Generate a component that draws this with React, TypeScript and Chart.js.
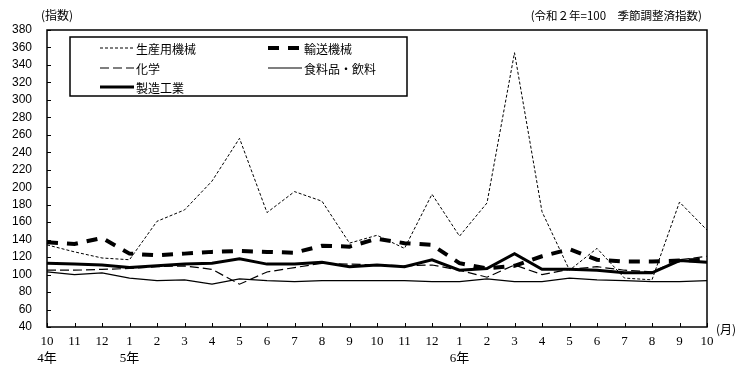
import React, { useEffect, useRef } from 'react';
import { Chart, registerables } from 'chart.js';
Chart.register(...registerables);

// ---- data ----
const months = ['10','11','12','1','2','3','4','5','6','7','8','9','10','11','12','1','2','3','4','5','6','7','8','9','10'];
const years = ['4年','','','5年','','','','','','','','','','','','6年','','','','','','','','',''];
const seriesNames = ['生産用機械', '輸送機械', '化学', '食料品・飲料', '製造工業'];
const machinery = [134,126,119,117,161,174,207,256,171,195,184,136,145,130,192,144,182,354,172,105,130,96,94,183,151];
const transport = [137,135,142,124,122,124,126,127,126,125,133,132,141,136,134,113,107,110,121,129,117,115,115,116,117];
const chemicals = [105,105,106,107,109,110,106,89,103,108,113,112,111,110,111,105,97,111,100,106,109,105,103,117,121];
const food = [103,100,102,96,93,94,89,95,93,92,93,93,93,93,92,92,95,92,92,96,94,93,92,92,93];
const manufacturing = [113,112,111,108,110,112,113,118,112,112,114,109,111,109,117,105,107,124,106,106,105,102,102,116,114];
const yTicks = { min: 40, max: 380, step: 20 };
const yUnit = '(指数)';
const note = '(令和２年=100　季節調整済指数)';
const xUnit = '(月)';

const CJK = '"Noto Sans CJK JP", "Noto Sans", sans-serif';

const legendSlots = [
  { x: 100, y: 48 }, { x: 268, y: 48 },
  { x: 100, y: 68 }, { x: 268, y: 68 },
  { x: 100, y: 87 },
];

const decorPlugin = {
  id: 'decor',
  afterDraw(chart: any) {
    const { ctx, chartArea: a, scales } = chart;
    ctx.save();
    // frame
    ctx.strokeStyle = '#000';
    ctx.lineWidth = 1.5;
    ctx.setLineDash([]);
    ctx.strokeRect(a.left, a.top, a.right - a.left, a.bottom - a.top);
    // inward ticks
    ctx.lineWidth = 1;
    const ys = scales.y;
    ys.ticks.forEach((t: any) => {
      const py = Math.round(ys.getPixelForValue(t.value)) + 0.5;
      ctx.beginPath(); ctx.moveTo(a.left, py); ctx.lineTo(a.left + 4, py); ctx.stroke();
    });
    const xs = scales.x;
    xs.ticks.forEach((_t: any, i: number) => {
      const px = Math.round(xs.getPixelForTick(i)) + 0.5;
      ctx.beginPath(); ctx.moveTo(px, a.bottom); ctx.lineTo(px, a.bottom - 4); ctx.stroke();
    });
    // legend
    ctx.fillStyle = '#fff';
    ctx.fillRect(70, 37, 337, 59);
    ctx.lineWidth = 1.5;
    ctx.strokeStyle = '#000';
    ctx.strokeRect(70, 37, 337, 59);
    ctx.font = '12px ' + CJK;
    ctx.textBaseline = 'middle';
    ctx.textAlign = 'left';
    chart.data.datasets.forEach((ds: any, i: number) => {
      const s = legendSlots[i];
      ctx.save();
      ctx.strokeStyle = ds.borderColor;
      ctx.lineWidth = ds.borderWidth;
      ctx.setLineDash(ds.borderDash || []);
      ctx.beginPath(); ctx.moveTo(s.x, s.y); ctx.lineTo(s.x + 34, s.y); ctx.stroke();
      ctx.restore();
      ctx.fillStyle = '#000';
      ctx.fillText(ds.label, s.x + 36, s.y + 1);
    });
    // texts
    ctx.fillStyle = '#000';
    ctx.font = '12px ' + CJK;
    ctx.textAlign = 'left';
    ctx.fillText(yUnit, 41, 15);
    ctx.textAlign = 'right';
    ctx.font = '11.5px ' + CJK;
    ctx.fillText(note, 702, 16);
    ctx.textAlign = 'left';
    ctx.font = '12px ' + CJK;
    ctx.fillText(xUnit, 716, 329);
    ctx.restore();
  },
};

export default function App() {
  const ref = useRef<HTMLCanvasElement>(null);
  useEffect(() => {
    if (!ref.current) return;
    const labels = months.map((m, i) => (years[i] ? [m, years[i]] : m));
    const mk = (label: string, data: number[], width: number, dash: number[]) => ({
      label, data, borderColor: '#000', backgroundColor: '#000', borderWidth: width,
      borderDash: dash, pointRadius: 0, tension: 0, fill: false, borderCapStyle: 'butt' as const,
    });
    const chart = new Chart(ref.current, {
      type: 'line',
      data: {
        labels,
        datasets: [
          mk(seriesNames[0], machinery, 1, [3, 2]),
          mk(seriesNames[1], transport, 4, [11, 9]),
          mk(seriesNames[2], chemicals, 1.2, [9, 4]),
          mk(seriesNames[3], food, 1.2, []),
          mk(seriesNames[4], manufacturing, 3, []),
        ],
      },
      options: {
        animation: false,
        responsive: false,
        maintainAspectRatio: false,
        layout: { padding: { top: 30, right: 40, left: 0, bottom: 0 } },
        plugins: { legend: { display: false }, tooltip: { enabled: false }, title: { display: false } },
        scales: {
          x: {
            grid: { display: false, drawTicks: false },
            border: { display: false },
            afterFit: (s: any) => { s.height = 45; },
            ticks: {
              autoSkip: false, maxRotation: 0, padding: 6, color: '#000',
              font: { family: '"Liberation Serif", "Noto Sans CJK JP", serif', size: 13, lineHeight: 1.3 },
            },
          },
          y: {
            min: yTicks.min, max: yTicks.max,
            grid: { display: false, drawTicks: false },
            border: { display: false },
            afterFit: (s: any) => { s.width = 47; },
            ticks: {
              stepSize: yTicks.step, padding: 15, color: '#000',
              font: { family: '"Liberation Sans", Arial, sans-serif', size: 12 },
            },
          },
        },
      },
      plugins: [decorPlugin],
    });
    return () => chart.destroy();
  }, []);
  return (
    <div style={{ position: 'fixed', left: 0, top: 0, width: 747, height: 372, background: '#fff' }}>
      <canvas ref={ref} width={747} height={372} style={{ display: 'block', width: 747, height: 372 }} />
    </div>
  );
}
